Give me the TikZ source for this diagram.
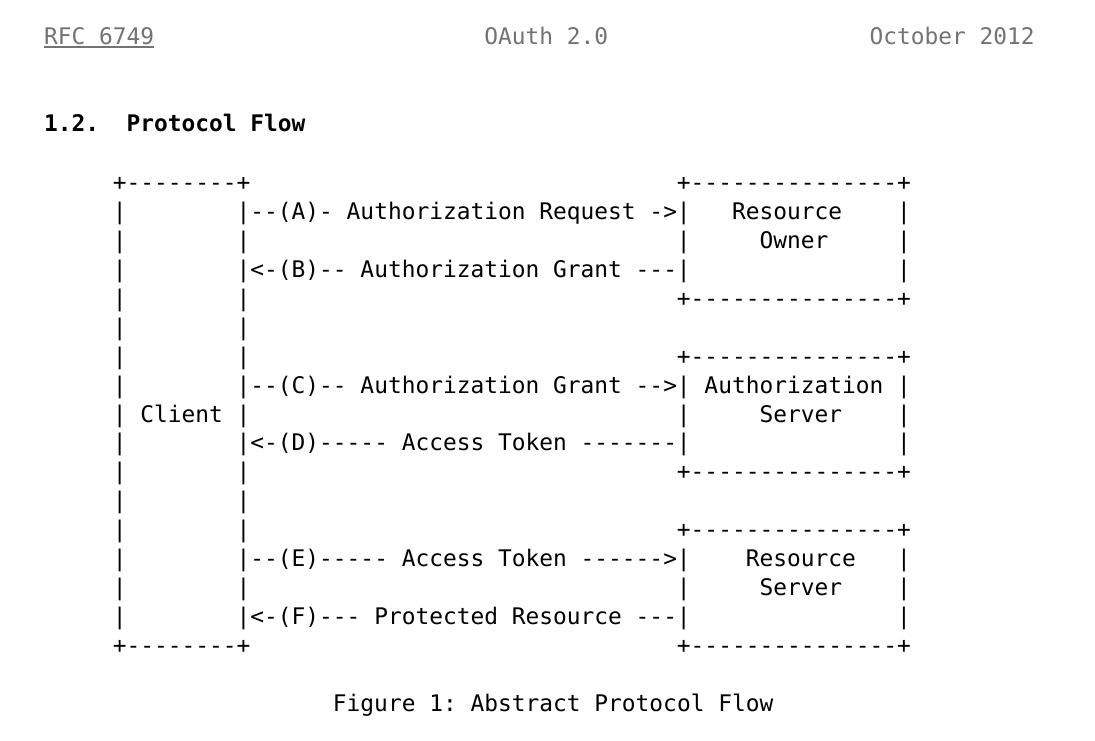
\documentclass[tikz,border=0pt]{standalone}
\usepackage{fontspec}
\setmonofont{DejaVu Sans Mono}
\definecolor{hdrgray}{RGB}{115,115,115}
\tikzset{
  txt/.style={anchor=base west, inner sep=0pt, outer sep=0pt, font=\ttfamily\fontsize{22.86pt}{28.9pt}\selectfont, text=black},
  hdr/.style={txt, text=hdrgray},
  ttl/.style={txt, font=\ttfamily\bfseries\fontsize{22.86pt}{28.9pt}\selectfont}
}
% \cell[style]{name}{column}{line}{text}
\newcommand\cell[5][txt]{\node[#1] (#2) at ({44pt+#3*13.76pt},{-44.5pt-#4*28.9pt-(#4>4?1.8pt:0pt)}) {#5};}
\begin{document}
\begin{tikzpicture}
\fill[white] (0,0) rectangle (1095pt,-741pt);
\useasboundingbox (0,0) rectangle (1095pt,-741pt);
% page header
\cell[hdr]{rfc}{0}{0}{RFC~6749}
\cell[hdr]{oauth}{32}{0}{OAuth~2.0}
\cell[hdr]{date}{60}{0}{October~2012}
\draw[hdrgray, line width=1.5pt] ([yshift=-2.6pt]rfc.base west) -- ([yshift=-2.6pt]rfc.base east);
% section title
\cell[ttl]{title}{0}{3}{1.2.~~Protocol~Flow}
% client box (column 5)
\cell{L0}{5}{5}{+--------+}
\cell{L1}{5}{6}{|~~~~~~~~|}
\cell{L2}{5}{7}{|~~~~~~~~|}
\cell{L3}{5}{8}{|~~~~~~~~|}
\cell{L4}{5}{9}{|~~~~~~~~|}
\cell{L5}{5}{10}{|~~~~~~~~|}
\cell{L6}{5}{11}{|~~~~~~~~|}
\cell{L7}{5}{12}{|~~~~~~~~|}
\cell{L8}{5}{13}{|~Client~|}
\cell{L9}{5}{14}{|~~~~~~~~|}
\cell{L10}{5}{15}{|~~~~~~~~|}
\cell{L11}{5}{16}{|~~~~~~~~|}
\cell{L12}{5}{17}{|~~~~~~~~|}
\cell{L13}{5}{18}{|~~~~~~~~|}
\cell{L14}{5}{19}{|~~~~~~~~|}
\cell{L15}{5}{20}{|~~~~~~~~|}
\cell{L16}{5}{21}{+--------+}
% messages (column 15)
\cell{MA}{15}{6}{--(A)-~Authorization~Request~->}
\cell{MB}{15}{8}{<-(B)--~Authorization~Grant~---}
\cell{MC}{15}{12}{--(C)--~Authorization~Grant~-->}
\cell{MD}{15}{14}{<-(D)-----~Access~Token~-------}
\cell{ME}{15}{18}{--(E)-----~Access~Token~------>}
\cell{MF}{15}{20}{<-(F)---~Protected~Resource~---}
% resource owner (column 46)
\cell{R0}{46}{5}{+---------------+}
\cell{R1}{46}{6}{|~~~Resource~~~~|}
\cell{R2}{46}{7}{|~~~~~Owner~~~~~|}
\cell{R3}{46}{8}{|~~~~~~~~~~~~~~~|}
\cell{R4}{46}{9}{+---------------+}
% authorization server
\cell{R6}{46}{11}{+---------------+}
\cell{R7}{46}{12}{|~Authorization~|}
\cell{R8}{46}{13}{|~~~~~Server~~~~|}
\cell{R9}{46}{14}{|~~~~~~~~~~~~~~~|}
\cell{R10}{46}{15}{+---------------+}
% resource server
\cell{R12}{46}{17}{+---------------+}
\cell{R13}{46}{18}{|~~~~Resource~~~|}
\cell{R14}{46}{19}{|~~~~~Server~~~~|}
\cell{R15}{46}{20}{|~~~~~~~~~~~~~~~|}
\cell{R16}{46}{21}{+---------------+}
% caption
\cell{cap}{21}{23}{Figure~1:~Abstract~Protocol~Flow}
\end{tikzpicture}
\end{document}
